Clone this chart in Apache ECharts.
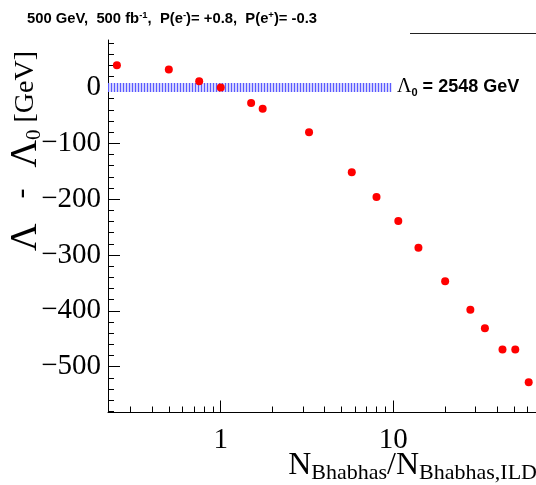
<!DOCTYPE html>
<html>
<head>
<meta charset="utf-8">
<script src="https://cdn.jsdelivr.net/npm/echarts@6/dist/echarts.min.js"></script>
<style>
html, body { margin: 0; padding: 0; background: #fff; }
#chart { width: 536px; height: 485px; }
</style>
</head>
<body>
<div id="chart"></div>
<script>
// N_Bhabhas / N_Bhabhas,ILD
var ratio = [0.25, 0.5, 0.75, 1.0, 1.5, 1.75, 3.25, 5.75, 8, 10.7, 14, 20, 28, 34, 43, 51, 61];
// Lambda - Lambda0 [GeV]
var delta = [40, 32, 11, 0, -28, -38, -80, -152, -196, -239, -287, -347, -398, -431, -469, -469, -528];

// axis ranges and ticks
var xMin = 0.222, xMax = 80;
var yMin = -582, yMax = 85;
var xMajor = [1, 10];
var xMinor = [0.3, 0.4, 0.5, 0.6, 0.7, 0.8, 0.9, 2, 3, 4, 5, 6, 7, 8, 9, 20, 30, 40, 50, 60, 70, 80];
var yMajor = [-500, -400, -300, -200, -100, 0];
var yMinor = [-580, -560, -540, -520, -480, -460, -440, -420, -380, -360, -340, -320,
    -280, -260, -240, -220, -180, -160, -140, -120, -80, -60, -40, -20, 20, 40, 60, 80];

// reference band around Lambda0
var bandHalf = 8;
var bandEnd = 9.8;
var lambda0 = 2548;

var chart = echarts.init(document.getElementById('chart'));

// blue vertical hatching
var hatch = document.createElement('canvas');
hatch.width = 3;
hatch.height = 4;
var hc = hatch.getContext('2d');
hc.fillStyle = '#d4d4ff';
hc.fillRect(0, 0, 3, 4);
hc.fillStyle = '#5a5aff';
hc.fillRect(0, 0, 1, 4);

var serif = 'Liberation Serif';
var sans = 'Liberation Sans';

function minus(v) {
    return String(v).replace('-', '\u2212');
}

var points = ratio.map(function (x, i) {
    return [x, delta[i]];
});

var option = {
    animation: false,
    grid: {left: 108, width: 441, top: 40, bottom: 72.5, outerBoundsMode: 'none', containLabel: false},
    xAxis: [{
        type: 'log',
        logBase: 10,
        min: xMin,
        max: xMax,
        axisLine: {onZero: false, lineStyle: {color: '#000', width: 1}},
        axisTick: {inside: true, length: 12, customValues: xMajor, lineStyle: {color: '#000'}},
        axisLabel: {
            customValues: xMajor,
            fontFamily: serif, fontSize: 29, color: '#000', margin: 13,
            formatter: function (v) { return String(v); }
        },
        splitLine: {show: false}
    }, {
        type: 'log',
        logBase: 10,
        min: xMin,
        max: xMax,
        position: 'bottom',
        axisLine: {show: false, onZero: false},
        axisTick: {inside: true, length: 6, customValues: xMinor, lineStyle: {color: '#000'}},
        axisLabel: {show: false},
        splitLine: {show: false}
    }],
    yAxis: [{
        type: 'value',
        min: yMin,
        max: yMax,
        axisLine: {show: true, onZero: false, lineStyle: {color: '#000', width: 1}},
        axisTick: {show: true, inside: true, length: 12, customValues: yMajor, lineStyle: {color: '#000'}},
        axisLabel: {
            customValues: yMajor,
            fontFamily: serif, fontSize: 29, color: '#000', margin: 7,
            formatter: minus
        },
        splitLine: {show: false}
    }, {
        type: 'value',
        min: yMin,
        max: yMax,
        position: 'left',
        axisLine: {show: false, onZero: false},
        axisTick: {show: true, inside: true, length: 6, customValues: yMinor, lineStyle: {color: '#000'}},
        axisLabel: {show: false},
        splitLine: {show: false}
    }],
    series: [{
        type: 'scatter',
        xAxisIndex: 0,
        yAxisIndex: 0,
        symbol: 'circle',
        symbolSize: 8,
        itemStyle: {color: '#ff0000', opacity: 1},
        data: points,
        markArea: {
            silent: true,
            itemStyle: {color: {image: hatch, repeat: 'repeat'}, opacity: 1},
            data: [[{coord: [xMin, -bandHalf]}, {coord: [bandEnd, bandHalf]}]]
        }
    }],
    graphic: [{
        type: 'text',
        x: 27,
        y: 19,
        style: {
            text: '{b|500 GeV,  500 fb}{s|-1}{b|,  P(e}{s|-}{b|)= +0.8,  P(e}{s|+}{b|)= -0.3}',
            align: 'left',
            verticalAlign: 'middle',
            rich: {
                b: {fontFamily: sans, fontWeight: 'bold', fontSize: 14.8, lineHeight: 18, fill: '#000'},
                s: {fontFamily: sans, fontWeight: 'bold', fontSize: 9.5, lineHeight: 9, verticalAlign: 'top', fill: '#000'}
            }
        }
    }, {
        type: 'line',
        shape: {x1: 410, y1: 33.5, x2: 536, y2: 33.5},
        style: {stroke: '#222', lineWidth: 1}
    }, {
        type: 'text',
        x: 397,
        y: 87,
        style: {
            text: '{g|\u039b}{s|0}{b| = ' + lambda0 + ' GeV}',
            align: 'left',
            verticalAlign: 'middle',
            rich: {
                g: {fontFamily: serif, fontSize: 20, lineHeight: 22, fill: '#000'},
                s: {fontFamily: sans, fontWeight: 'bold', fontSize: 11, lineHeight: 11, verticalAlign: 'bottom', fill: '#000'},
                b: {fontFamily: sans, fontWeight: 'bold', fontSize: 18, lineHeight: 22, fill: '#000'}
            }
        }
    }, {
        type: 'text',
        x: 26,
        y: 155,
        rotation: Math.PI / 2,
        style: {
            text: '{L1|\u039b}{d|-}{L2|\u039b}{sub|0}{m|[GeV]}',
            align: 'center',
            verticalAlign: 'middle',
            rich: {
                L1: {fontFamily: serif, fontSize: 38, lineHeight: 38, padding: [0, 25, 0, 8], fill: '#000'},
                L2: {fontFamily: serif, fontSize: 38, lineHeight: 38, padding: [0, 0, 0, 4], fill: '#000'},
                d: {fontFamily: serif, fontSize: 30, lineHeight: 30, verticalAlign: 'top', padding: [0, 17, 0, 0], fill: '#000'},
                m: {fontFamily: serif, fontSize: 28, lineHeight: 38, fill: '#000'},
                sub: {fontFamily: serif, fontSize: 21, lineHeight: 21, padding: [0, 7, 0, 0], verticalAlign: 'bottom', fill: '#000'}
            }
        }
    }, {
        type: 'text',
        x: 537,
        y: 466,
        style: {
            text: '{m|N}{sub|Bhabhas}{m|/N}{sub|Bhabhas,ILD}',
            align: 'right',
            verticalAlign: 'middle',
            rich: {
                m: {fontFamily: serif, fontSize: 32, lineHeight: 36, fill: '#000'},
                sub: {fontFamily: serif, fontSize: 22, lineHeight: 22, verticalAlign: 'bottom', fill: '#000'}
            }
        }
    }]
};

chart.setOption(option);
</script>
</body>
</html>
